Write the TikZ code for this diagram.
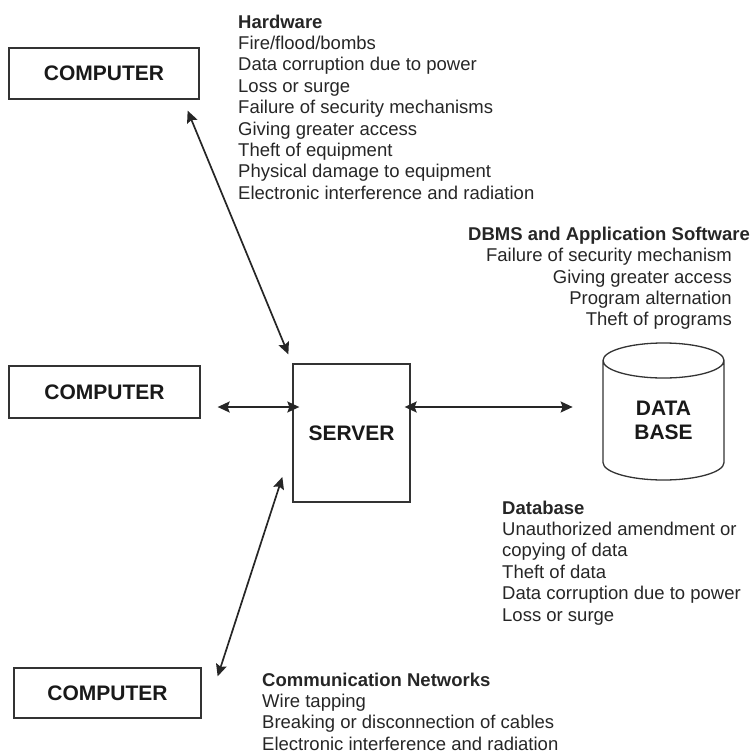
\documentclass[tikz,border=0pt]{standalone}
\usepackage{fontspec}
\setmainfont{Liberation Sans}
\usetikzlibrary{arrows.meta,shapes.geometric,calc}

\tikzset{
  unitbox/.style={draw=black!80,line width=1.3pt,inner sep=0pt,
    font=\fontsize{21}{24}\selectfont\bfseries,text=black!90},
  notes/.style={inner sep=0pt,font=\fontsize{18.5}{21.4}\selectfont,text=black!85},
  link/.style={{Stealth[length=12pt,width=11pt,inset=2pt]}-{Stealth[length=12pt,width=11pt,inset=2pt]},
    line width=1.7pt,draw=black!85}
}

\begin{document}
\begin{tikzpicture}[x=1pt,y=-1pt]
  \useasboundingbox (0,0) rectangle (751,754);

  % machines
  \node[unitbox,minimum width=190pt,minimum height=51pt] (comp1) at (104,73.5) {COMPUTER};
  \node[unitbox,minimum width=191pt,minimum height=52pt] (comp2) at (104.5,392) {COMPUTER};
  \node[unitbox,minimum width=187pt,minimum height=50pt] (comp3) at (107.5,693) {COMPUTER};
  \node[unitbox,minimum width=117pt,minimum height=138pt] (server) at (351.5,433) {SERVER};
  \node[unitbox,cylinder,shape border rotate=90,aspect=0.6,align=center,
        minimum width=121pt,minimum height=137pt,anchor=shape center] (db) at (663.5,411.5) {DATA\\BASE};

  % threats
  \node[notes,anchor=north west,align=left] (hw) at (238,14.5)
    {\textbf{Hardware}\\Fire/flood/bombs\\Data corruption due to power\\Loss or surge\\
     Failure of security mechanisms\\Giving greater access\\Theft of equipment\\
     Physical damage to equipment\\Electronic interference and radiation};
  \node[notes,anchor=north east] (dbmshead) at (750,227) {\textbf{DBMS and Application Software}};
  \node[notes,anchor=north east,align=right] (dbms) at (732,248)
    {Failure of security mechanism\\Giving greater access\\Program alternation\\Theft of programs};
  \node[notes,anchor=north west,align=left] (dbase) at (502,500.5)
    {\textbf{Database}\\Unauthorized amendment or\\copying of data\\Theft of data\\
     Data corruption due to power\\Loss or surge};
  \node[notes,anchor=north west,align=left] (comm) at (262,672.5)
    {\textbf{Communication Networks}\\Wire tapping\\Breaking or disconnection of cables\\
     Electronic interference and radiation};

  % links
  \draw[link] ($(comp1.south east)+(-12,11)$) -- ($(server.north west)+(-4,-9)$);
  \draw[link] ($(comp2.east)+(17,15)$) -- ($(server.west)+(7,-26)$);
  \draw[link] ($(server.east)+(-6,-26)$) -- ($(server.east)+(162,-26)$);
  \draw[link] ($(server.west)+(-10,44)$) -- ($(comp3.north east)+(16,9)$);
\end{tikzpicture}
\end{document}
